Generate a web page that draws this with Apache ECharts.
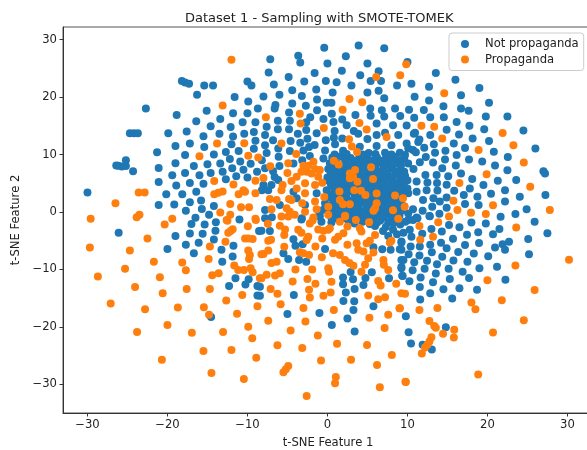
<!DOCTYPE html>
<html><head><meta charset="utf-8">
<style>html,body{margin:0;padding:0;background:#fff;overflow:hidden}#c{width:587px;height:450px}</style>
<script src="https://cdn.jsdelivr.net/npm/echarts@6/dist/echarts.min.js"></script>
</head><body><div id="c"></div>
<script>
const titleText = "Dataset 1 - Sampling with SMOTE-TOMEK";
const xName = "t-SNE Feature 1";
const yName = "t-SNE Feature 2";
const xTicks = [-30,-20,-10,0,10,20,30];
const yTicks = [-30,-20,-10,0,10,20,30];
const seriesNames = ["Not propaganda","Propaganda"];
const notPropaganda = [
[-30,3.4],[-26.15,8.06],[-25.7,7.9],[-25.2,9],[-25.2,8],[-26.4,8.1],[-24.3,7.1],[-24.7,13.7],[-24.2,13.7],[-23.7,13.7],[-22.7,18],[-21.3,10.4],[-21.1,7.65],[-21.1,5.2],[-21.1,1.2],[-20.15,3.1],[-19.15,1.3],[-18.15,3.1],[-18.9,4.6],[-19.4,6.4],[-19,8.5],[-19,11.5],[-19.9,13.7],[-18.85,16.9],[-18.2,22.8],[-17.8,22.55],[-17.3,22.3],[-15.4,22],[-14.3,22],[-16.3,20.4],[-15.1,17.6],[-16.4,15.8],[-17.6,14],[-17.2,11.9],[-17.8,9.9],[-16.7,8],[-17.8,6.8],[-17.2,5.05],[-16.4,3.5],[-17.2,1.7],[-17.7,0.2],[-15.8,2],[-15.7,0.5],[-14.8,-0.5],[-16.5,-1],[-14.2,1.05],[-15.5,4.9],[-16,6.4],[-14.6,6.8],[-15,8.3],[-14.2,10],[-15.4,11.3],[-15.5,13.2],[-14.6,14.9],[-13.4,16.2],[-11.8,17.2],[-10,17.2],[-8.7,18],[-9.9,19.25],[-11.6,20],[-10,22.7],[-9.5,22],[-12.1,14.8],[-10.6,15.6],[-9,15.6],[-9.2,13.9],[-10.4,13.6],[-11.8,13.15],[-13.5,13.6],[-12,11.8],[-9,12.4],[-9.2,11],[-11.1,10.6],[-12.7,10.45],[-12.2,9.2],[-10.9,8.8],[-13.4,8.45],[-9.6,8.4],[-11.9,7.6],[-10.5,7.35],[-13.1,7],[-11.4,6.2],[-10,6],[-12.7,5.7],[-8.8,7],
[-0.4,28.6],[3.9,29],[7.1,28.5],[2.3,27.1],[-7.15,26.6],[-3.65,27.2],[-3.4,26],[0,25.85],[5,25.85],[10,26.1],[-7.35,24.3],[-1.6,24.2],[1.8,24.6],[6.4,24.5],[-4.85,23.5],[4.1,23.8],[-2.9,22.7],[-0.2,22.8],[1.15,22.6],[5.4,22.8],[6.7,22.8],[10.5,22.3],[8.7,22],[-6.7,22.2],[3,22],[-4.4,21.2],[-1.4,21.3],[0.65,20.8],[5,20.8],[6.4,21.1],[-6,20.4],[-3.2,20.2],[-8,20.1],[-1.3,19.6],[7.1,19.8],[10.9,20.05],[-0.1,19],[0.5,19],[-4.4,18.9],[-6.5,18.6],[-6.6,18],[-2.7,18.5],[5.35,18],[6.8,17.7],[8.45,18],[10.2,17.8],[-1.3,17.7],[0.55,17.1],[3.5,16.9],[5.4,16.75],[7.1,16.6],[9.1,16.7],[10.85,16.4],[-4.8,17.3],[-2.15,16.5],[-0.5,16.2],[-6.2,15.9],[-4.7,15.9],[1.85,16.1],[-2.65,15.6],[6.15,15.4],[8.2,15.1],[9.9,15.05],[-7.6,14.85],[0.75,15.65],[2.4,15.1],[-6.2,14.4],[-4.8,14.4],[-2.65,14.25],[3.3,14.1],[0.9,14.1],[7.2,13.8],[8.85,13.4],[10.8,13.6],[-7.8,13.4],[-3.7,13.6],[-1.35,13.7],[6.15,13.4],[0.8,12.9],[3.85,13.6],[5,12.7],[-6.8,12.5],[-4.6,12.35],[-2.5,12.75],[-0.2,12.5],[1.85,12.8],[-7.8,11.6],[-3.4,12.05],[-1.6,11.65],[0.95,11.8],[6.15,11.5],[4.05,11.35],[8,11.6],[9.9,11.9],[11.5,12.6],[-6.15,11.05],[-4.7,10.6],[-2.3,11.3],[-7.6,10.25],[-3,10.7],[-0.3,10.7],[1.95,10.65],[5.15,10.25],[7.2,10.3],[9.05,10.3],[10.7,10.8],[-6.1,9.6],[-2.2,9.75],[-0.5,9.3],[-8.2,9],[-6,8],[-3.15,9],[-4.25,8.45],[-7.8,7.6],[-6.8,7.1],[-6.6,6.1],[-8,4.7],[-7,4.7],[-6.15,5.55],[10.1,8.45],
[-8.2,3.8],[-7.4,3.8],[-4.25,3.5],[-1.35,3.25],[-0.1,3.8],[-0.95,-0.8],[-3.2,-1.1],[-2.8,1.2],[-3.85,2.4],[-5.95,1.2],[-7.8,0.35],[-7.8,-1.1],
[13.55,24.2],[16,23],[19,21.6],[12.7,21.8],[16.7,20.3],[20.2,19],[12.7,19.4],[14.5,18.4],[16.7,18],[17.65,17.6],[12.05,17.75],[19.8,16.6],[22.5,16.6],[12.85,16.5],[14.55,16.5],[16.15,15.65],[17.75,15],[19.6,14.4],[24.5,14.2],[14.9,14.3],[16.45,13.5],[12.85,13.4],[10.95,13.8],[18.15,12.8],[20.2,12.35],[11.35,12.2],[13.3,11.8],[15.8,11.9],[26,11.05],[17.2,11.15],[12.1,11.2],[20.8,10.5],[10.1,11.05],[14.75,10.65],[13.45,10.3],[11.05,10.4],[16.15,9.9],[22.55,9.55],[12.3,9.55],[17.7,9.15],[14.7,9.15],[19.35,8.8],[11.55,8.65],[20.95,8.1],[13.2,8.6],[16.05,8.1],[27,7.1],[27.2,6.7],[14.35,7.6],[22.5,7.25],[10.75,7.5],[16.7,6.7],[15.1,6.2],[13.65,6.45],[12.25,6.45],[18.1,5.75],[21.3,5.45],[23.6,5.55],[11.15,5.3],[12.5,5.15],[13.7,5.05],[14.9,4.75],[19.5,4.7],[17.8,4.1],[15.85,3.7],[12.4,3.8],[13.75,3.75],[22.2,3.8],[11.15,3.5],[27.25,2.95],[17.05,2.95],[20.45,3.15],[24.05,2.65],[18.75,2.65],[14.9,2.5],[13.25,2.4],[11.95,2.1],[10.1,3.25],[14.05,1.8],[22.2,1.8],[17.2,1.4],[18.9,1.2],[13.1,0.9],[14.9,0.75],[24.9,0.45],[11.9,0.2],[10.7,0.45],[23.5,-0.35],[21.65,-0.85],[14,-0.3],[12.8,-0.75],[11.15,-0.95],[10.1,-0.25],
[25.9,-1.7],[27.5,-3.7],[25.1,-4.7],[25.2,-7.35],[19.8,-2],[21.5,-2.95],[20.7,-3.9],[18.85,-3.55],[18,-1.85],[16.5,-2.65],[15.2,-2.25],[14.3,-3.4],[17.45,-3.95],[15.7,-4.65],[13,-2.95],[11.85,-3.8],[18.95,-5.4],[22.7,-5.2],[21.9,-5.6],[20.95,-6.2],[22.2,-6.6],[17.2,-5.75],[14.2,-5.35],[14.9,-6.3],[12.85,-5.7],[10.4,-6],[11.55,-6],[16.35,-6.95],[18.3,-7.25],[20.1,-7.7],[13.05,-7],[11.5,-7.6],[14.35,-7.8],[10.15,-7.35],[15.75,-8.45],[17.5,-8.65],[12.45,-8.5],[10.85,-8.75],[21.2,-9.55],[13.7,-9.1],[19,-9.8],[15.15,-9.9],[12.15,-9.9],[10.65,-10.15],[16.9,-10.4],[13.55,-10.7],[9.4,-11.15],[11.65,-11.4],[15.3,-11.65],[17.7,-11.5],[22.25,-11.8],[10.25,-12.05],[13.2,-12.25],[11.55,-13.05],[16.5,-13.3],[14.5,-13.45],[18.7,-13.55],[12.85,-14.15],[15.6,-15.05],[11.6,-15.25],[9.8,-18.15],[14.8,-20.05],[10.15,-20.95],[10.45,-22.9],[11.9,-23.1],[13.05,-23.95],[9.5,-3.6],[9.25,-5.15],[9.25,-6.6],[10.3,-3.1],[11.25,-1.1],[12.75,-0.7],[9.25,-8.35],[9.25,-9.8],[10.1,-1.4],
[-26.1,-3.6],[-20,-6.45],[-19,-4.2],[-17.7,-5.7],[-16.7,-7.2],[-16.1,-5.35],[-17.2,-3.75],[-15.6,-3.8],[-14.2,-4.8],[-14,-3.25],[-17,-2.1],[-15.35,-2.2],[-13.95,-1.8],[-11,-1.3],[-13.25,-6.6],[-11.75,-5.9],[-11.85,-7.75],[-13.15,-8.65],[-11.5,-11.55],[-9.85,-11.7],[-12.3,-12.9],[-10.25,-12.65],[-8.75,-12.9],[-8.75,-14.55],[-14.55,-18.3],[-8.55,-3.3],
[-6.95,-0.9],[-8.25,-3.25],[-7.2,-3.3],[-3.25,-1.3],[-0.75,-1.7],[0.5,-1.85],[-4.25,-4.75],[-4,-5.9],[-3.1,-5.6],[-0.3,-6.45],[-5.5,-7.2],[-4.9,-8.2],[-3.55,-8.35],[-2.65,-8.65],[-4.2,-14.45],[-5,-17.75],[-1,-17.6],[0.55,-19.7],[2.5,-18.55],[3.4,-20.8],[2,-15.5],[3.35,-15.55],[3.25,-17.05],[2.3,-14],[3.4,-13.4],[1.95,-11.4],[1.95,-12.6],[3.2,-11.7],[4.5,-12.7],[4.75,-11.5],[2.9,-10.45],[5.55,-10.5],[5.75,-16.4],[7.7,-11.55],[9.35,-11.1],[9.25,-9.6],[9.5,-8.35],[5.75,-6.15],[6.85,-6.5],[7.9,-6.6],[9.25,-5.3],[9.05,-6.5],[10.5,-4.3],[8.2,-3.1],[6.95,-3.3],[5.95,-2.45],[8.45,-1.7],[10.7,-1.4],[9.75,-1.7],[-8.44,-13],[-8.44,-14.6],
[0.6,9.5],[1.7,9.7],[2.9,9.4],[4,9.6],[5,9.2],[6.2,9.5],[7.3,9.3],[8.4,9.6],[9.6,9.2],
[0.3,8.5],[1.3,8.4],[2.3,8.6],[3.3,8.5],[4.4,8.7],[5.4,8.4],[6.5,8.6],[7.5,8.3],[8.6,8.5],
[0.1,7.5],[1,7.4],[2,7.6],[3,7.4],[4,7.6],[5,7.5],[6,7.6],[7,7.4],[8,7.6],[9.1,7.3],
[0.4,6.5],[1.3,6.6],[2.2,6.4],[3.1,6.6],[4,6.4],[4.9,6.6],[5.8,6.4],[6.7,6.6],[7.6,6.4],[8.6,6.6],[9.7,6.3],
[0,5.5],[0.9,5.4],[1.8,5.6],[2.7,5.4],[3.6,5.6],[4.5,5.4],[5.4,5.6],[6.3,5.4],[7.2,5.6],[8.1,5.4],[9.1,5.6],[10,5.5],
[0.5,4.5],[1.4,4.6],[2.3,4.4],[3.2,4.6],[4.1,4.4],[5,4.6],[5.9,4.4],[6.8,4.6],[7.7,4.4],[8.6,4.6],[9.6,4.4],
[0.9,3.5],[2,3.4],[2.9,3.6],[4,3.4],[5,3.6],[5.9,3.4],[6.9,3.6],[7.8,3.4],[8.8,3.6],[9.8,3.3],
[0.4,2.5],[1.4,2.6],[2.4,2.4],[3.4,2.6],[4.4,2.4],[5.4,2.6],[6.4,2.4],[7.4,2.6],[8.4,2.4],
[-0.3,1.5],[0.7,1.6],[1.7,1.4],[3.3,1.5],[4.4,1.6],[5.4,1.4],[7.1,1.5],[8.1,1.6],[9.1,1.4],
[-0.5,0.4],[0.8,0.6],[1.8,0.4],[2.9,0.6],[4,0.4],[5,0.5],[6.6,0.6],[7.2,0.4],[9.3,0.2],
[-1,-0.4],[0.9,-0.6],[1.7,-0.8],[3,-0.5],[4.2,-0.6],[5.3,-0.5],[6.4,-0.6],[7.5,-0.5],[9,-0.7],
[1,-1.1],[2.6,-1.5],[4.4,-1.7],[6.6,-1.5],[7.6,-1.8],[9.1,-2.2],[7.3,-2.6],[8.7,-3.9],[7.6,-4.2],
[0.9,10],[2.4,10.1],[4.4,10],[6,10.1],[8,10],[9.7,9.9],
[0.9,9],[2.2,9.1],[3.5,8.9],[4.5,9.1],[5.7,9],[6.8,8.9],[7.9,9.1],[9,9],
[0.8,8],[1.9,8.1],[2.8,7.9],[3.9,8.1],[4.9,8],[6,7.9],[7,8.1],[8.1,8],[9.2,8.1],
[0.5,7],[1.5,6.9],[2.5,7.1],[3.5,7],[4.5,6.9],[5.5,7.1],[6.5,7],[7.5,6.9],[8.5,7.1],[9.6,7],
[0,6],[0.9,6.1],[1.7,5.9],[2.6,6],[3.6,6.1],[4.5,5.9],[5.3,6],[6.2,6.1],[7.1,5.9],[8.1,6],[9.1,6.1],
[0.4,5],[1.3,4.9],[2.2,5.1],[3.1,5],[4,4.9],[4.9,5.1],[5.8,5],[6.7,4.9],[7.6,5.1],[8.5,5],[9.5,4.9],
[0.9,4],[1.8,4.1],[2.7,3.9],[3.6,4],[4.5,4.1],[5.4,3.9],[6.3,4],[7.2,4.1],[8.1,3.9],[9.1,4],[10,4.1],
[0.5,3],[1.5,2.9],[2.4,3.1],[3.5,3],[4.5,2.9],[5.4,3.1],[6.4,3],[7.3,2.9],[8.3,3.1],[9.3,3],
[0.9,2],[1.9,2.1],[2.9,1.9],[3.9,2],[4.9,2.1],[5.9,1.9],[6.9,2],[7.9,2.1],[8.9,1.9],
[0.2,1],[1.2,1.1],[2.3,0.9],[3.8,1],[4.9,1.1],[6.1,0.9],[6.6,1],[7.6,1.1],[8.6,0.9],[9.6,1],
[0.3,0],[1.3,0.1],[2.4,-0.1],[3.5,0],[4.5,0.1],[5.6,-0.1],[6.9,0],[8.1,0.1],[8.7,-0.1],
[0.5,-1],[1.9,-1.1],[3.6,-0.9],[5,-1],[6,-1.1],[7,-0.9],[8.1,-1],
[3.4,-2],[5.3,-2.1],[6.2,-1.9],[8.2,-2]
];
const propaganda = [
[-12,26.5],[-13.1,18.55],[-13.8,11.9],[-10.4,11.95],[-16,9.7],[-9.9,9.8],[-8.65,9.5],[-14.15,5.4],[-11.75,4.8],[-9,5.45],[-23.6,3.4],[-22.85,3.4],[-26.5,1.5],[-29.6,-1.2],[-23.5,-0.5],[-23.85,-0.9],[-19.4,-1.2],[-14.15,3.1],[-13.65,3.35],[-13.1,3.55],[-11.1,3.1],[-10.5,3.8],[-10.3,3.5],[-9,3.25],[-12.15,1.4],[-10.8,0.8],[-9.8,0.8],[-13.4,-0.1],[-12.15,-0.5],[-12.6,-1.4],[-9,-1.2],
[9.85,25.7],[9.1,23.8],[6.1,23.5],[2.75,19.65],[4.35,19.1],[1.9,17.8],[-3.45,17.1],[-7.7,16.5],[-3.35,15.4],[4,15.5],[-0.45,14.6],[4.9,14.35],[7.4,13.05],[2.7,12.65],[-5.75,11.9],[3.05,11.4],[3.7,10.45],[-3.9,10.1],[0.8,8.9],[1.4,8.25],[5.45,7.8],[-7.15,7.95],[-4.9,8.5],[-5,6.8],[-8,5.9],
[-3,8.05],[-2.4,8.05],[-1.75,8.75],[-1.55,7.5],[-0.95,7.3],[-3.25,7],[-2.6,7],[-2,6.7],[-1.15,6.15],[-0.65,5.1],[-1.55,4.7],[-2.8,5],[-3.85,6.15],[-4.5,5.4],[-3.85,4.1],[-2.8,3.25],
[2.8,6.7],[3.45,7.3],[3.2,6.15],[3.75,5.25],[2.8,5.85],[5.7,5.75],[1.5,3.55],[3.35,3.8],[4.2,3.7],[4.75,2.95],[6.15,3.2],[8.45,2.85],[9.45,2.4],[-0.4,2.6],[1.55,2.1],[1.95,1.35],[2.8,1.35],[6.15,1.5],[5.95,0.65],[5.75,0.2],[8.2,0.3],[9.65,0.9],[-5.6,4.7],[-5.75,3.8],[-7.2,2.25],[-6.35,2.1],[-4.8,2.25],[-4.5,2.1],[-3.15,1.5],[-7,0.45],[-1.55,1.8],[0.1,0.9],[-1.35,0.45],[-2.8,0.05],[-5.1,0.65],[-4.7,0.05],[-5.75,-0.8],[-4.9,-0.8],[-1.75,-0.95],[0.1,-0.5],[2.2,-0.65],[8.85,-1.2],[-4.1,-0.5],
[14.6,20.65],[11.75,15],[13.35,14.85],[14.35,12.8],[21.9,13.75],[23.25,11.6],[18.9,10.8],[24.55,8.6],[19.9,6.55],[16.5,5.05],[25.35,4.4],[15.75,1.95],[20.7,1.15],[16.25,0.35],[27.8,0.35],[17.95,-0.15],[19.8,-0.35],[15.2,-0.8],
[13.85,-1.8],[11.5,-2.45],[13.2,-4.3],[11.6,-4.85],[23.6,-2.7],[23.5,-9.3],[30.2,-8.3],[20,-11.9],[25.9,-13.6],[21.8,-15.35],[18,-15.75],[18.5,-16.95],[13.75,-16.7],[11.5,-17.05],[9.7,-14.25],[9.25,-14.15],[9.06,-16.75],[24.55,-18.85],[12.75,-19],[13.35,-19.85],[13.55,-20.15],[15.85,-20.5],[15.8,-21.85],[14.45,-21.2],[20.7,-21],[13,-21.8],[12.75,-22.55],[12.5,-23.1],[12.2,-23.6],[11.8,-24.65],[18.85,-28.3],[9.8,-29.6],
[-29.7,-6.2],[-20.35,-2.2],[-22.5,-4.6],[-24.7,-6.7],[-21.7,-8.65],[-25.3,-9.9],[-28.7,-11.25],[-18.15,-8.8],[-17.7,-10.15],[-20.95,-11.35],[-24.05,-13.05],[-17.6,-13.4],[-20.6,-14.15],[-27.1,-15.95],[-22.8,-16.95],[-18.7,-16.65],[-15.45,-16.6],[-14.8,-17.9],[-20,-19.7],[-23.8,-20.9],[-16.95,-21.05],[-13.05,-20.9],[-9.9,-20],[-9.4,-22],[-15.5,-24.2],[-12,-24.05],[-8.9,-25.4],[-20.7,-25.75],[-14.5,-28.05],[-10.45,-29.1],[-14.7,-6],[-14.85,-8.2],[-14.4,-11],[-13.6,-10.65],[-14.7,-13.4],[-12.65,-15.4],[-10.65,-14.45],[-11.3,-17.7],[-8.75,-16.4],[-12.75,-5.2],[-12.4,-3.6],[-12.1,-3.3],[-11.85,-3],[-12.5,-1.55],[-9.95,-2.5],[-8.95,-1.4],[-10.3,-4.6],[-9.9,-4.6],[-9.35,-4.7],[-9.9,-6.7],[-9.7,-7.5],[-9.8,-8.2],[-11.65,-9.3],[-11.15,-10.1],[-10.45,-10.1],[-9.6,-9.8],[-9.35,-10.5],[-8.45,-11.55],[-8.25,-7.35],
[-7.45,-2.05],[-5.95,-2.4],[-5.3,-3.05],[-5.4,-4],[-3.65,-3.1],[-3.25,-3.6],[-2.4,-4.3],[-2.6,-4.9],[-2.2,-2],[-1.85,-1.5],[-1.15,-3.05],[-0.5,-3.25],[0.1,-3.1],[0.3,-2.85],[-0.65,-4.6],[-7.05,-4.85],[-7.4,-5],[-5.4,-6.05],[-1.5,-6],[0.95,-4.85],[1.35,-4.3],[2,-3.7],[2.5,-2.55],[1.55,-1.7],[2.2,-0.8],[2.5,-5.7],[4.05,-2.85],[4.25,-3.4],[3.55,-1.4],[5.2,-1.8],[5.95,-4],[5.3,-5],[4.9,-5.45],[3.65,-5.45],[3.85,-6.6],[4.5,-6.9],[5.75,-7.05],[8,-5],[7.8,-5.3],[-3.45,-7],[-3,-7.2],[-2.3,-7.5],[-0.7,-7.9],[0.7,-7.2],[1.55,-7.5],[2.2,-8.35],[2.75,-8.9],[3.25,-9.35],[5.1,-8.05],[4.7,-9.2],[4.25,-10.4],[7,-8.35],[7.05,-9.2],[7.6,-10.1],[-8,-7.3],[-7.4,-6.7],[-7,-8.9],[-6.35,-8.65],[-4,-10],[-1.9,-10],[0.1,-9.8],[0.2,-10.4],[-7.6,-10.95],[-8.25,-11.55],[-6.55,-11.05],[-5.95,-10.65],[-2.5,-11.65],[-4.35,-12.1],[-1.5,-12.5],[0.5,-12.15],[6.35,-12],[6.65,-12.8],[8.6,-12.5],[-7.1,-13.4],[-6.25,-14.25],[-2.3,-13.55],[-2.2,-14.9],[-0.5,-14.6],[0.4,-14],[5.1,-14.55],[6.35,-15.2],[7.2,-14.85],[-5.85,-16.05],[-3,-16.7],[0.8,-17.05],[9,-16.75],[-7.4,-18.95],[-2.75,-19.05],[5.25,-18.4],[7.6,-17.9],[-4.6,-20.65],[7.15,-20.2],[-1.2,-21.5],[-6.25,-23.2],[-3.15,-23.7],[1.2,-22.95],[4.95,-23.15],[8.05,-24.9],[-0.8,-25.85],[2.95,-25.75],[6.2,-26.65],[-4.9,-26.8],[-5.2,-27.4],[-5.5,-27.9],[1.05,-28.75],[0.95,-29.8],[6.55,-30.5],[9.75,-29.55],[-2.6,-32.05]
];
const fmt = v => String(v).replace('-', '\u2212');
const chart = echarts.init(document.getElementById('c'), null, {renderer:'canvas'});
const axisCommon = {
  type:'value', splitLine:{show:false}, nameLocation:'middle',
  nameTextStyle:{fontFamily:'DejaVu Sans',fontSize:11.6,color:'#222'},
  axisLine:{show:true,onZero:false,lineStyle:{color:'#333',width:1}},
  axisTick:{show:true,length:3.5,lineStyle:{color:'#333'}},
};
chart.setOption({
  animation:false, backgroundColor:'#fff',
  title:{text:titleText,left:180,top:7,textStyle:{fontFamily:'DejaVu Sans',fontSize:13,fontWeight:'normal',color:'#222'}},
  grid:{left:63,top:27,width:530,height:386,show:true,borderColor:'#555',borderWidth:1,outerBoundsMode:'none'},
  legend:{orient:'vertical',left:449,top:33,padding:[5,5,5,12],icon:'circle',itemWidth:30,itemHeight:8,itemGap:3.5,
    backgroundColor:'rgba(255,255,255,0.8)',borderColor:'#ccc',borderWidth:1,borderRadius:3,
    textStyle:{fontFamily:'DejaVu Sans',fontSize:11.6,color:'#222'},data:seriesNames},
  xAxis:Object.assign({},axisCommon,{min:-33.06,max:33.2,name:xName,nameGap:24,
    axisTick:Object.assign({},axisCommon.axisTick,{customValues:xTicks}),
    axisLabel:{customValues:xTicks,formatter:fmt,fontFamily:'DejaVu Sans',fontSize:11.6,color:'#222',margin:6}}),
  yAxis:Object.assign({},axisCommon,{min:-35,max:32.2,name:yName,nameGap:36,
    axisTick:Object.assign({},axisCommon.axisTick,{customValues:yTicks}),
    axisLabel:{customValues:yTicks,formatter:fmt,fontFamily:'DejaVu Sans',fontSize:11.6,color:'#222',margin:6}}),
  series:[
    {name:seriesNames[0],type:'scatter',data:notPropaganda,symbolSize:8,itemStyle:{color:'#1f77b4',opacity:1},z:2},
    {name:seriesNames[1],type:'scatter',data:propaganda,symbolSize:8,itemStyle:{color:'#ff7f0e',opacity:1},z:3}
  ]
});
</script></body></html>
